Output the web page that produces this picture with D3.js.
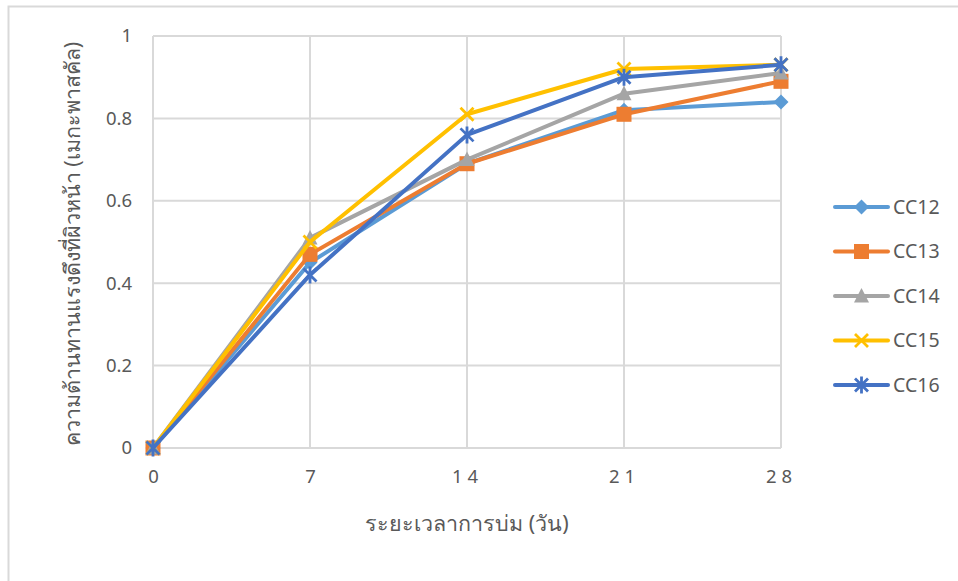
<!DOCTYPE html>
<html>
<head>
<meta charset="utf-8">
<script src="https://cdn.jsdelivr.net/npm/d3@7"></script>
<style>
  body { margin: 0; background: #fff; }
  svg { display: block; font-family: "Noto Sans", "DejaVu Sans", sans-serif; }
</style>
</head>
<body>
<svg id="chart" width="958" height="581"></svg>
<script>
// Curing time (days) and surface tensile strength (MPa)
const days = [0, 7, 14, 21, 28];
const xTickLabels = ["0", "7", "14", "21", "28"];
const yTicks = [0, 0.2, 0.4, 0.6, 0.8, 1];
const seriesNames = ["CC12", "CC13", "CC14", "CC15", "CC16"];
const cc12 = [0, 0.45, 0.69, 0.82, 0.84];
const cc13 = [0, 0.47, 0.69, 0.81, 0.89];
const cc14 = [0, 0.51, 0.70, 0.86, 0.91];
const cc15 = [0, 0.50, 0.81, 0.92, 0.93];
const cc16 = [0, 0.42, 0.76, 0.90, 0.93];
const seriesColors = ["#5B9BD5", "#ED7D31", "#A5A5A5", "#FFC000", "#4472C4"];
const markerKinds = ["diamond", "square", "triangle", "cross", "star"];

const xTitle = "ระยะเวลาการบ่ม (วัน)";
const yTitle = "ความต้านทานแรงดึงที่ผิวหน้า (เมกะพาสคัล)";

const series = seriesNames.map((name, i) => ({
  name,
  values: [cc12, cc13, cc14, cc15, cc16][i],
  color: seriesColors[i],
  marker: markerKinds[i]
}));

const svg = d3.select("#chart");

// outer frame
svg.append("rect")
  .attr("x", 8.5).attr("y", 6.5)
  .attr("width", 1200).attr("height", 1200)
  .attr("fill", "none").attr("stroke", "#d9d9d9").attr("stroke-width", 2);

const plot = { left: 153, right: 781, top: 36, bottom: 448 };
const x = d3.scaleLinear().domain([0, 28]).range([plot.left, plot.right]);
const y = d3.scaleLinear().domain([0, 1]).range([plot.bottom, plot.top]);

const grid = svg.append("g");
// horizontal gridlines
grid.selectAll("line.h").data(yTicks).join("line")
  .attr("x1", plot.left).attr("x2", plot.right)
  .attr("y1", d => y(d)).attr("y2", d => y(d))
  .attr("stroke", "#d9d9d9").attr("stroke-width", 2);
// vertical gridlines
grid.selectAll("line.v").data(days).join("line")
  .attr("x1", d => x(d)).attr("x2", d => x(d))
  .attr("y1", plot.top).attr("y2", plot.bottom)
  .attr("stroke", "#d9d9d9").attr("stroke-width", 2);

// y axis labels
const yAxis = d3.axisLeft(y).tickValues(yTicks).tickSize(0).tickPadding(0)
  .tickFormat(d => d === 0 || d === 1 ? String(d) : d3.format(".1f")(d));
svg.append("g").attr("transform", `translate(${plot.left - 21},0)`)
  .call(yAxis)
  .call(g => g.select(".domain").remove())
  .call(g => g.selectAll("text").attr("fill", "#595959").attr("font-size", 18.5)
    .attr("font-family", "'Noto Sans', 'DejaVu Sans', sans-serif"));

// x axis labels
const xAxis = d3.axisBottom(x).tickValues(days).tickSize(0).tickPadding(0)
  .tickFormat((d, i) => xTickLabels[i]);
svg.append("g").attr("transform", `translate(0,${plot.bottom + 22})`)
  .call(xAxis)
  .call(g => g.select(".domain").remove())
  .call(g => g.selectAll("text").attr("fill", "#595959").attr("font-size", 18.5)
    .attr("letter-spacing", d => d >= 10 ? "5px" : null)
    .attr("font-family", "'Noto Sans', 'DejaVu Sans', sans-serif"));

// axis titles
svg.append("text")
  .attr("x", (plot.left + plot.right) / 2).attr("y", 531)
  .attr("text-anchor", "middle").attr("fill", "#595959").attr("font-size", 21.5)
  .text(xTitle);
svg.append("text")
  .attr("transform", `translate(80,${(plot.top + plot.bottom) / 2 + 2}) rotate(-90)`)
  .attr("text-anchor", "middle").attr("fill", "#595959").attr("font-size", 21.5)
  .text(yTitle);

// marker shapes
function drawMarker(g, kind, color) {
  if (kind === "diamond") {
    g.append("path").attr("d", "M0,-7.5L7.5,0L0,7.5L-7.5,0Z").attr("fill", color);
  } else if (kind === "square") {
    g.append("rect").attr("x", -7.5).attr("y", -7.5).attr("width", 15).attr("height", 15).attr("fill", color);
  } else if (kind === "triangle") {
    g.append("path").attr("d", "M0,-8L7.5,6.5L-7.5,6.5Z").attr("fill", color);
  } else if (kind === "cross") {
    g.append("path").attr("d", "M-6.5,-6.5L6.5,6.5M6.5,-6.5L-6.5,6.5").attr("stroke", color).attr("stroke-width", 2.8).attr("fill", "none");
  } else if (kind === "star") {
    g.append("path").attr("d", "M-6.5,-6.5L6.5,6.5M6.5,-6.5L-6.5,6.5M0,-8.5L0,8.5").attr("stroke", color).attr("stroke-width", 2.8).attr("fill", "none");
  }
}

const line = d3.line().x((d, i) => x(days[i])).y(d => y(d));

const lines = svg.append("g");
series.forEach(s => {
  const g = lines.append("g");
  g.append("path").attr("d", line(s.values))
    .attr("fill", "none").attr("stroke", s.color).attr("stroke-width", 4)
    .attr("stroke-linejoin", "round").attr("stroke-linecap", "round");
  s.values.forEach((v, i) => {
    const m = g.append("g").attr("transform", `translate(${x(days[i])},${y(v)})`);
    drawMarker(m, s.marker, s.color);
  });
});

// legend
const legend = svg.append("g").attr("transform", "translate(835,207)");
series.forEach((s, i) => {
  const row = legend.append("g").attr("transform", `translate(0,${i * 44.5})`);
  row.append("line").attr("x1", 0).attr("x2", 53).attr("y1", 0).attr("y2", 0)
    .attr("stroke", s.color).attr("stroke-width", 4).attr("stroke-linecap", "round");
  const m = row.append("g").attr("transform", "translate(26.5,0)");
  drawMarker(m, s.marker, s.color);
  row.append("text").attr("x", 58).attr("y", 0).attr("dy", "0.35em")
    .attr("fill", "#595959").attr("font-size", 19.5).text(s.name);
});
</script>
</body>
</html>
